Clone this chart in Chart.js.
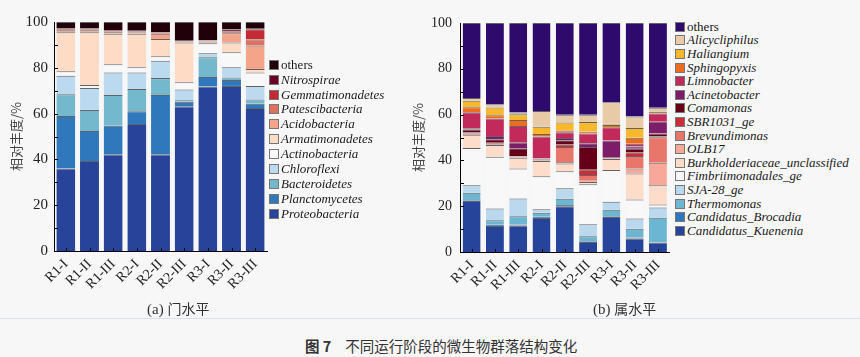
<!DOCTYPE html>
<html><head><meta charset="utf-8">
<script src="https://cdn.jsdelivr.net/npm/chart.js@4"></script>
<style>
html,body{margin:0;padding:0;}
body{background:#f7f7f7;width:860px;height:357px;overflow:hidden;position:relative;font-family:'Liberation Serif',serif;}
canvas{position:absolute;top:0;}
.legend{position:absolute;}
.li{position:absolute;left:0;height:14px;line-height:14px;white-space:nowrap;font-size:13px;color:#1a1a1a;font-style:italic;display:flex;align-items:center;}
.li.plain{font-style:normal;}
.box{display:inline-block;width:10px;height:10px;border:1px solid #777;box-sizing:border-box;margin-right:2px;flex:none;}
.sub{position:absolute;top:298px;font-size:15px;color:#333;white-space:nowrap;}
.sub .cjk{font-family:'Noto Sans CJK SC',sans-serif;font-size:14px;}
.rule{position:absolute;left:0;top:318px;width:860px;height:0;border-top:1px solid #d6e2e6;}
.cap{position:absolute;left:305px;top:335px;font-family:'Noto Sans CJK SC',sans-serif;font-size:14.5px;color:#333;white-space:nowrap;}
.cap b{font-weight:bold;margin-right:14px;}
</style>
</head><body>
<canvas id="c1" width="275" height="300" style="left:0;width:275px;height:300px"></canvas>
<canvas id="c2" width="275" height="300" style="left:400px;width:275px;height:300px"></canvas>
<div class="legend" id="lg1" style="left:269px;top:0"></div>
<div class="legend" id="lg2" style="left:675px;top:0"></div>
<div class="sub" style="left:147px"><span>(a) </span><span class="cjk">门水平</span></div>
<div class="sub" style="left:593px"><span>(b) </span><span class="cjk">属水平</span></div>
<div class="rule"></div>
<div class="cap"><b>图 7</b>不同运行阶段的微生物群落结构变化</div>
<script>
// ---------- categories ----------
const categories = ['R1-I','R1-II','R1-III','R2-I','R2-II','R2-III','R3-I','R3-II','R3-III'];
const yTicks = [0,20,40,60,80,100];

// ---------- (a) phylum level, bottom to top ----------
const proteobacteria   = [36.0, 39.3, 42.0, 55.5, 42.0, 63.0, 71.8, 72.1, 62.4];
const planctomycetes   = [23.0, 13.1, 12.7,  5.5, 26.1,  2.2,  4.2,  2.6,  1.9];
const bacteroidetes    = [ 9.5,  9.2, 13.4,  9.7,  7.4,  0.6,  8.6,  1.1,  1.9];
const chloroflexi      = [ 8.0,  9.6,  9.9,  7.3,  7.6,  4.7,  1.7,  4.4,  5.9];
const actinobacteria   = [ 2.0,  1.3,  3.5,  2.2,  1.9,  3.2,  4.4,  6.6,  5.8];
const armatimonadetes  = [17.0, 23.0, 13.4, 14.7,  7.6, 17.4,  0.6,  4.3,  1.6];
const acidobacteria    = [ 0.5,  0.9,  0.6,  0.5,  2.3,  0.3,  0.3,  4.0, 10.2];
const patescibacteria  = [ 0.5,  0.3,  0.4,  0.3,  0.3,  0.2,  0.2,  0.6,  2.7];
const gemmatimonadetes = [ 0.3,  0.2,  0.3,  0.2,  0.2,  0.1,  0.1,  0.4,  4.4];
const nitrospirae      = [ 0.5,  0.3,  0.3,  0.3,  0.2,  0.1,  0.2,  0.6,  0.6];
const othersPhylum     = [ 2.7,  2.8,  3.5,  3.8,  4.4,  8.2,  7.9,  3.3,  2.6];

// ---------- (b) genus level, bottom to top ----------
const kuenenia      = [22.3, 11.4, 11.6, 14.9, 20.0,  4.4, 15.3,  5.9,  4.0];
const brocadia      = [ 0.3,  0.5,  0.4,  0.5,  0.5,  0.3,  0.3,  0.4,  0.3];
const thermomonas   = [ 3.3,  2.0,  3.6,  1.7,  2.7,  2.2,  2.9,  3.9, 10.7];
const sja28         = [ 3.3,  5.1,  7.8,  1.6,  4.6,  5.2,  3.4,  4.4,  4.4];
const fimbrii       = [16.2, 22.6, 13.1, 14.4,  7.5, 17.5, 13.9,  8.3,  1.3];
const burkholder    = [ 5.8,  5.1,  4.7,  6.6,  3.4,  1.0,  4.8, 11.4,  8.5];
const olb17         = [ 0.3,  0.3,  0.2,  0.3,  0.6,  0.5,  0.2,  2.2,  9.8];
const brevundimonas = [ 0.3,  0.3,  0.2,  0.2,  6.5,  2.5,  0.1,  5.4, 11.1];
const sbr1031       = [ 0.5,  0.4,  0.2,  0.2,  1.2,  2.3,  0.2,  1.7,  0.4];
const comamonas     = [ 1.2,  1.5,  3.5,  0.3,  1.8, 10.0,  0.3,  1.5,  1.3];
const acinetobacter = [ 0.5,  1.5,  2.4,  0.2,  1.0,  1.6,  7.3,  1.0,  5.1];
const limnobacter   = [ 7.0,  7.6,  7.3,  9.5,  2.5,  4.3,  5.8,  1.2,  3.6];
const sphingopyxis  = [ 2.2,  1.4,  2.6,  1.1,  0.8,  0.7,  1.0,  2.6,  0.7];
const haliangium    = [ 2.9,  3.4,  2.5,  3.2,  3.5,  4.3,  0.5,  4.2,  0.3];
const alicycliphilus= [ 1.2,  1.4,  0.8,  6.9,  3.3,  3.1,  9.4,  5.1,  1.5];
const othersGenus   = [32.7, 35.5, 39.1, 38.4, 40.1, 40.1, 34.6, 40.8, 37.0];

const phylumSeries = [
  ['Proteobacteria', proteobacteria, '#27449a'],
  ['Planctomycetes', planctomycetes, '#2f78bb'],
  ['Bacteroidetes', bacteroidetes, '#74b8cd'],
  ['Chloroflexi', chloroflexi, '#bcdaef'],
  ['Actinobacteria', actinobacteria, '#f8f8f8'],
  ['Armatimonadetes', armatimonadetes, '#fddbc5'],
  ['Acidobacteria', acidobacteria, '#f4a488'],
  ['Patescibacteria', patescibacteria, '#e07060'],
  ['Gemmatimonadetes', gemmatimonadetes, '#c42a33'],
  ['Nitrospirae', nitrospirae, '#6c0322'],
  ['others', othersPhylum, '#22000a']
];
const genusSeries = [
  ['Candidatus_Kuenenia', kuenenia, '#25449a'],
  ['Candidatus_Brocadia', brocadia, '#2f78bd'],
  ['Thermomonas', thermomonas, '#6cb6d3'],
  ['SJA-28_ge', sja28, '#bad9ee'],
  ['Fimbriimonadales_ge', fimbrii, '#f8f8f8'],
  ['Burkholderiaceae_unclassified', burkholder, '#fddcca'],
  ['OLB17', olb17, '#f7a898'],
  ['Brevundimonas', brevundimonas, '#e8766a'],
  ['SBR1031_ge', sbr1031, '#cc2b38'],
  ['Comamonas', comamonas, '#660019'],
  ['Acinetobacter', acinetobacter, '#7d1c68'],
  ['Limnobacter', limnobacter, '#c12a5a'],
  ['Sphingopyxis', sphingopyxis, '#ee6c1f'],
  ['Haliangium', haliangium, '#f8b82e'],
  ['Alicycliphilus', alicycliphilus, '#e8cba6'],
  ['others', othersGenus, '#2e0a6c']
];

const innerTicks = {
  id:'innerTicks',
  afterDraw(chart){
    const {ctx, chartArea:a, scales:{x,y}} = chart;
    ctx.save(); ctx.strokeStyle='#000'; ctx.lineWidth=1; ctx.beginPath();
    for(let v=10; v<100; v+=10){ const py=Math.round(y.getPixelForValue(v))+0.5; ctx.moveTo(a.left, py); ctx.lineTo(a.left+4, py); }
    categories.forEach((c,i)=>{ const px=Math.round(x.getPixelForValue(i))+0.5; ctx.moveTo(px, a.bottom); ctx.lineTo(px, a.bottom-3); });
    ctx.stroke(); ctx.restore();
  }
};

function makeChart(id, series, cfg){
  return new Chart(document.getElementById(id), {
    type:'bar',
    data:{ labels:categories, datasets: series.map(s=>({
      label:s[0], data:s[1], backgroundColor:s[2],
      borderColor:'rgba(20,20,20,0.65)', borderWidth:{top:1,left:0,right:0,bottom:0},
      categoryPercentage:cfg.cat, barPercentage:1
    }))},
    options:{
      responsive:false, animation:false, devicePixelRatio:1,
      layout:{padding:{top:cfg.top,right:cfg.right,left:0,bottom:0}},
      plugins:{legend:{display:false}, tooltip:{enabled:false}},
      scales:{
        x:{ stacked:true, offset:true,
            grid:{display:false, drawTicks:false},
            border:{display:true,color:'#000',width:1},
            ticks:{ color:'#222', font:{family:'Liberation Serif',size:14}, maxRotation:45, minRotation:45, padding:5, autoSkip:false },
            afterFit(s){ s.height = cfg.xh; } },
        y:{ stacked:true, min:0, max:100,
            afterBuildTicks(s){ s.ticks = yTicks.map(v=>({value:v})); },
            grid:{display:false, drawTicks:false},
            border:{display:true,color:'#000',width:1},
            ticks:{ color:'#222', font:{family:'Liberation Serif',size:cfg.yfs}, padding:cfg.ypad },
            title:{ display:true, text:'相对丰度/%', color:'#444', font:{family:'Noto Sans CJK SC',size:13}, padding:{top:cfg.tpad,bottom:0} },
            afterFit(s){ s.width = cfg.yw; } }
      }
    },
    plugins:[innerTicks]
  });
}

makeChart('c1', phylumSeries, {cat:0.8, top:22, right:8, xh:49, yw:54, yfs:15, ypad:6, tpad:8});
makeChart('c2', genusSeries, {cat:0.77, top:23, right:3, xh:48, yw:60, yfs:14, ypad:8, tpad:10});

function buildLegend(id, series, firstY, step){
  const el = document.getElementById(id);
  series.slice().reverse().forEach((s,i)=>{
    const d = document.createElement('div');
    d.className = 'li' + (s[0]==='others' ? ' plain' : '');
    d.style.top = (firstY + i*step - 7) + 'px';
    const b = document.createElement('span'); b.className='box'; b.style.background=s[2];
    d.appendChild(b); d.appendChild(document.createTextNode(s[0]));
    el.appendChild(d);
  });
}
buildLegend('lg1', phylumSeries, 64.7, 14.9);
buildLegend('lg2', genusSeries, 26.7, 13.6);
</script>
</body></html>
